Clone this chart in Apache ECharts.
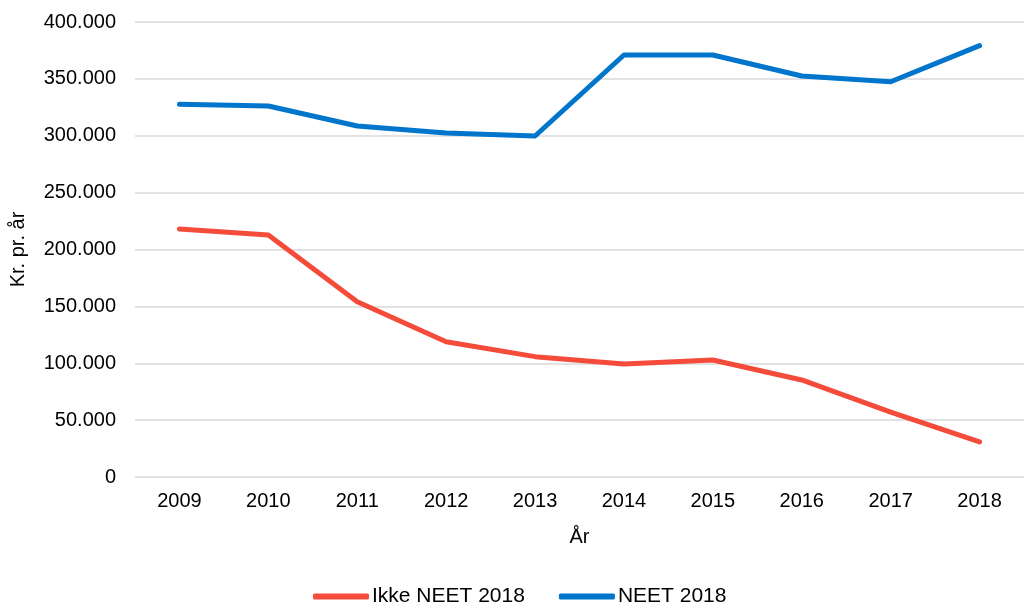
<!DOCTYPE html>
<html>
<head>
<meta charset="utf-8">
<script src="https://cdn.jsdelivr.net/npm/echarts@6/dist/echarts.min.js"></script>
<style>
  html, body { margin: 0; padding: 0; background: #fff; }
  #main { width: 1027px; height: 610px; }
</style>
</head>
<body>
<div id="main"></div>
<script>
// data
var years = ['2009', '2010', '2011', '2012', '2013', '2014', '2015', '2016', '2017', '2018'];
var ikkeNeet = [218000, 212700, 154100, 118900, 105800, 99300, 102900, 85300, 57100, 30800];
var neet = [327600, 326200, 308600, 302400, 299800, 371000, 371000, 352500, 347500, 379200];
var seriesNames = ['Ikke NEET 2018', 'NEET 2018'];

// 1000-tals punktum
function fmt(v) {
    return String(v).replace(/\B(?=(\d{3})+(?!\d))/g, '.');
}

var myChart = echarts.init(document.getElementById('main'));

var option = {
    animation: false,
    textStyle: { fontFamily: 'Liberation Sans, Arial, sans-serif' },
    grid: { left: 135, right: 3, top: 22, bottom: 133 },
    legend: {
        bottom: -2,
        left: 308,
        itemWidth: 56,
        itemHeight: 6,
        itemGap: 34,
        icon: 'roundRect',
        textStyle: { fontSize: 21, color: '#000', padding: [0, 0, 0, -2] },
        data: seriesNames
    },
    xAxis: {
        type: 'category',
        data: years,
        name: 'År',
        nameLocation: 'middle',
        nameGap: 50,
        nameTextStyle: { fontSize: 20, color: '#000' },
        axisLine: { show: false },
        axisTick: { show: false },
        axisLabel: { fontSize: 20, color: '#000', margin: 14 }
    },
    yAxis: {
        type: 'value',
        min: 0,
        max: 400000,
        interval: 50000,
        name: 'Kr. pr. år',
        nameLocation: 'middle',
        nameGap: 107,
        nameTextStyle: { fontSize: 20, color: '#000' },
        axisLine: { show: false },
        axisTick: { show: false },
        axisLabel: { fontSize: 20, color: '#000', margin: 19, formatter: fmt },
        splitLine: { lineStyle: { color: '#d9d9d9', width: 1.5 } }
    },
    series: [
        {
            name: seriesNames[0],
            type: 'line',
            data: ikkeNeet,
            symbol: 'none',
            color: '#f44b3b',
            lineStyle: { width: 5, color: '#f44b3b', cap: 'round', join: 'round' }
        },
        {
            name: seriesNames[1],
            type: 'line',
            data: neet,
            symbol: 'none',
            color: '#0075cc',
            lineStyle: { width: 5, color: '#0075cc', cap: 'round', join: 'round' }
        }
    ]
};

myChart.setOption(option);
</script>
</body>
</html>
